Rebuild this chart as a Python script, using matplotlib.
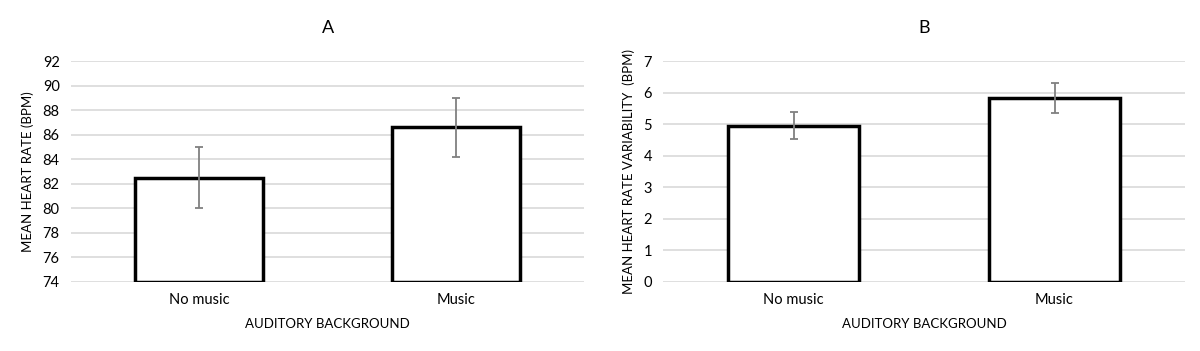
import matplotlib
matplotlib.use('Agg')
import matplotlib.pyplot as plt

plt.rcParams['font.family'] = ['Lato', 'DejaVu Sans']

categories = ['No music', 'Music']
hr_mean = [82.5, 86.6]
hr_err = [2.5, 2.4]
hrv_mean = [4.95, 5.83]
hrv_err = [0.42, 0.49]

fig = plt.figure(figsize=(12, 3.51), dpi=100)
ax_a = fig.add_axes([0.059, 0.197, 0.428, 0.629])
ax_b = fig.add_axes([0.5525, 0.197, 0.435, 0.629])


def panel(ax, means, errs, lo, hi, step, title, ylabel):
    x = range(len(categories))
    ax.bar(x, [m - lo for m in means], bottom=lo, width=0.5, color='white',
           edgecolor='black', linewidth=2.5, zorder=3)
    ax.errorbar(x, means, yerr=errs, fmt='none', ecolor='#808080',
                elinewidth=1.3, capsize=3, capthick=1.3, zorder=4)
    ax.set_ylim(lo, hi)
    ax.set_xlim(-0.5, 1.5)
    ticks = []
    v = lo
    while v <= hi + 1e-9:
        ticks.append(v)
        v += step
    ax.set_yticks(ticks)
    ax.yaxis.grid(True, color='#d9d9d9', linewidth=1.2, zorder=0)
    ax.set_axisbelow(True)
    for s in ax.spines.values():
        s.set_visible(False)
    ax.set_xticks(list(x))
    ax.set_xticklabels(categories)
    ax.tick_params(length=0, labelsize=10.5, colors='black', pad=8)
    ax.set_title(title, fontsize=13, pad=20)
    ax.set_xlabel('AUDITORY BACKGROUND', fontsize=9.5, labelpad=8)
    ax.set_ylabel(ylabel, fontsize=9.5, labelpad=6)


panel(ax_a, hr_mean, hr_err, 74, 92, 2, 'A', 'MEAN HEART RATE (BPM)')
panel(ax_b, hrv_mean, hrv_err, 0, 7, 1, 'B', 'MEAN HEART RATE VARIABILITY  (BPM)')

fig.savefig('out.png', dpi=100)
